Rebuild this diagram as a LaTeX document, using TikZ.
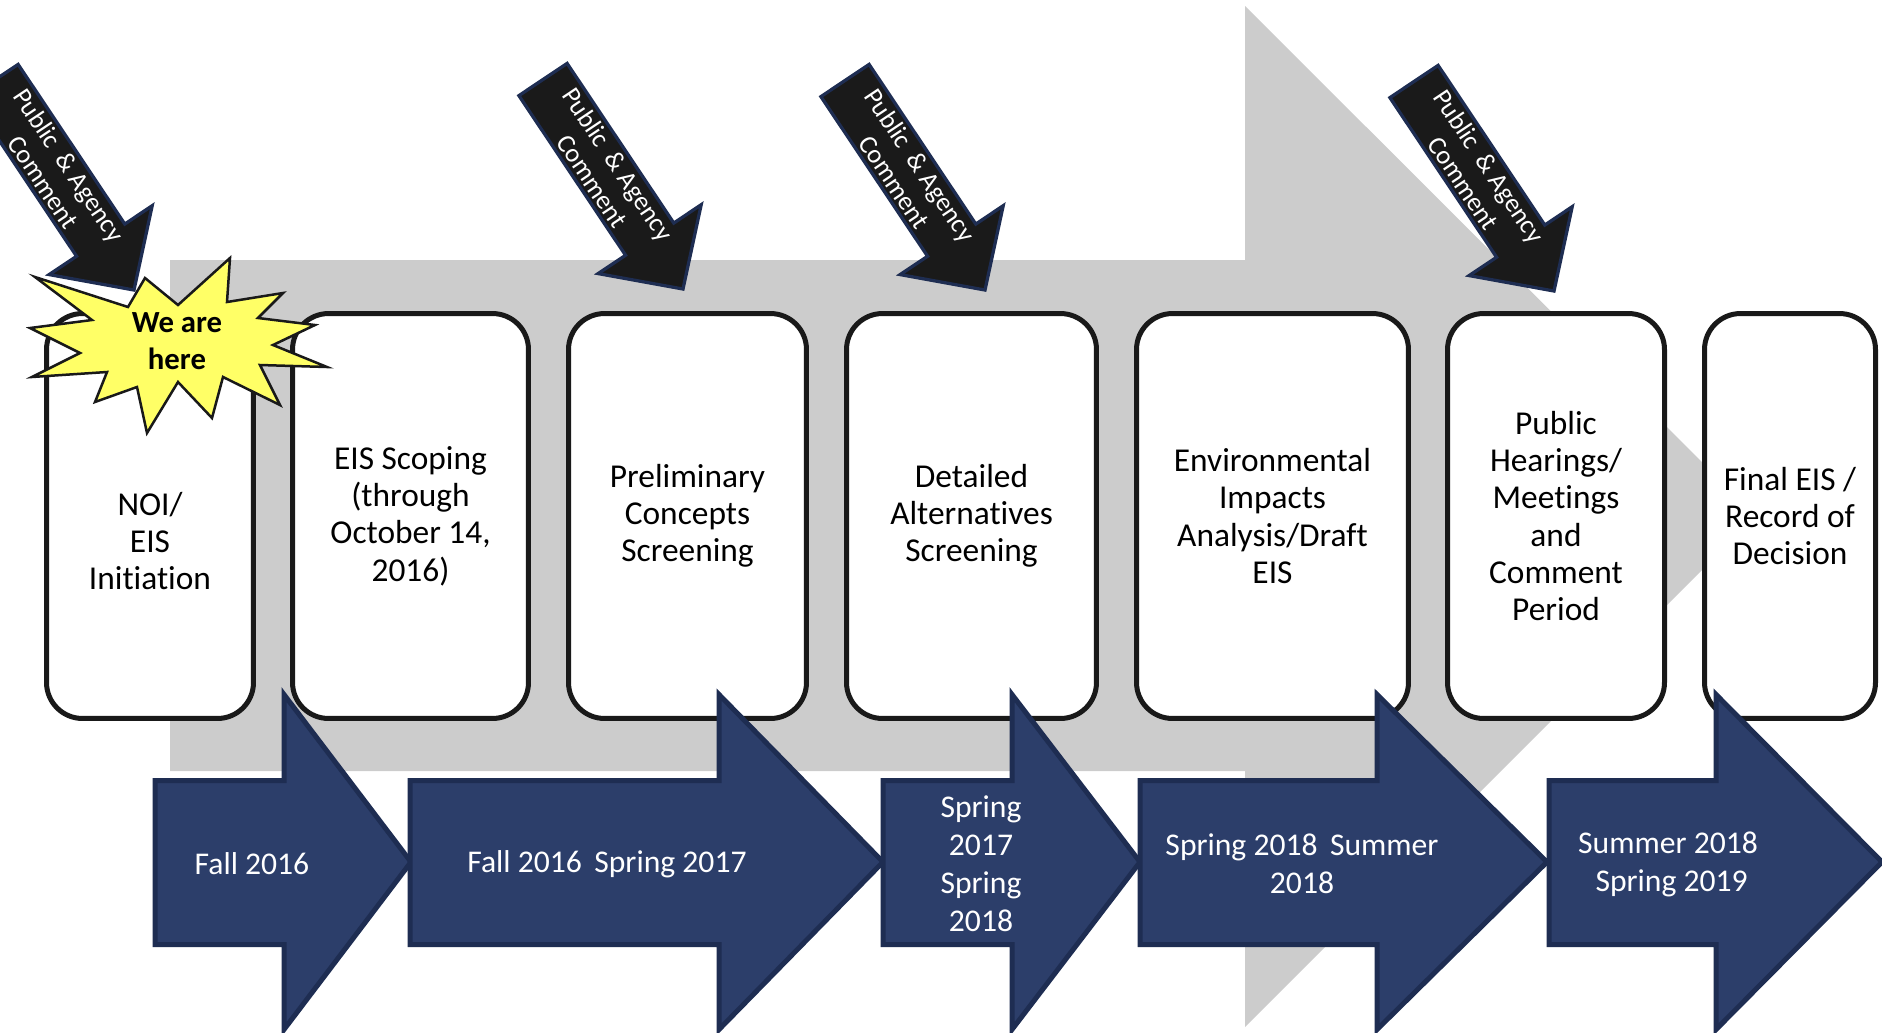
\documentclass[tikz,border=0pt]{standalone}
\usepackage{fontspec}
\setmainfont{Carlito}[Ligatures=NoCommon]
\usepackage{tikz}
\definecolor{navyFill}{RGB}{44, 62, 106}
\definecolor{navyEdge}{RGB}{30, 45, 82}
\definecolor{trackGray}{RGB}{204, 204, 204}
\definecolor{commentBlack}{RGB}{26, 26, 26}
\definecolor{starYellow}{RGB}{255, 255, 102}

\begin{document}
\begin{tikzpicture}[x=0.02cm, y=-0.02cm,
    stage/.style={draw=black!90, line width=0.1cm, fill=white, rounded corners=0.72cm,
        align=center, minimum height=8.1cm, inner sep=0pt, font=\fontsize{19}{21.2}\selectfont},
    period/.style={fill=navyFill, draw=navyEdge, line width=0.1cm},
    periodText/.style={text=white, align=center, font=\fontsize{18}{21.6}\selectfont},
    comment/.style={fill=commentBlack, draw=navyEdge, line width=0.065cm},
    commentText/.style={text=white, align=center, font=\fontsize{15}{17.5}\selectfont}]
    % page frame (pixel units)
    \useasboundingbox (0,0) rectangle (1882,1032);
    \clip (0,0) rectangle (1882,1032);

    % large gray arrow behind everything
    \coordinate (trackTop) at (1245,6);
    \coordinate (trackTip) at (1756,516);
    \coordinate (trackBottom) at (1245,1027);
    \fill[trackGray] (170,260) -- (1245,260) -- (trackTop) -- (trackTip)
        -- (trackBottom) -- (1245,771) -- (170,771) -- cycle;

    % process stages
    \node[stage, minimum width=4.14cm] (noi) at (150,516) {\mbox{}\\[0.72cm]NOI/\\EIS\\Initiation};
    \node[stage, minimum width=4.72cm] (scoping) at (410.5,516) {EIS Scoping\\(through\\October 14,\\2016)};
    \node[stage, minimum width=4.76cm] (concepts) at (687.5,516) {Preliminary\\Concepts\\Screening};
    \node[stage, minimum width=5.0cm] (alternatives) at (971.5,516) {Detailed\\Alternatives\\Screening};
    \node[stage, minimum width=5.44cm] (impacts) at (1272.5,516) {Environmental\\Impacts\\Analysis/Draft\\EIS};
    \node[stage, minimum width=4.34cm] (hearings) at (1556,516) {Public\\Hearings/\\Meetings\\and\\Comment\\Period};
    \node[stage, minimum width=3.42cm] (decision) at (1790,516) {Final EIS /\\Record of\\Decision};

    % public & agency comment arrows (tip x/y)
    \foreach \tx/\ty in {134/290, 683/289, 985/290, 1554/291} {
        \begin{scope}[shift={(\tx-140,\ty-209.5)}, rotate=-56.25]
            \draw[comment] (0,-29) -- (192,-29) -- (192,-62) -- (252,0)
                -- (192,62) -- (192,29) -- (0,29) -- cycle;
            \node[commentText, transform shape] (comment\tx) at (112,0) {Public \ \& Agency\\Comment};
        \end{scope}
    }

    % schedule arrows (body left / head start / tip)
    \foreach \l/\h/\t in {155/284/411, 410/719/883, 883/1012/1140, 1140/1377/1547, 1549/1716/1882} {
        \draw[period] (\l,780.5) -- (\h,780.5) -- (\h,694.5) -- (\t,862)
            -- (\h,1029.5) -- (\h,944.5) -- (\l,944.5) -- cycle;
    }
    \node[periodText] (fall) at (252,864) {Fall 2016};
    \node[periodText] (fallSpring) at (607,864) {Fall 2016\, Spring 2017};
    \node[periodText] (springSpring) at (981,864) {Spring\\2017\\Spring\\2018};
    \node[periodText] (springSummer) at (1302,864) {Spring 2018\, Summer\\2018};
    \node[periodText] (summerSpring) at (1668,864) {Summer 2018\\\ Spring 2019};

    % "we are here" burst
    \filldraw[fill=starYellow, draw=black!90, line width=0.05cm]
        (230,258) -- (227,302) -- (283,293) -- (258,318) -- (315,325) -- (273,345)
        -- (327,367) -- (260,365) -- (280,405) -- (223,377) -- (212,418) -- (178,382)
        -- (147,433) -- (137,387) -- (95,402) -- (107,372) -- (32,377) -- (80,353)
        -- (30,328) -- (92,320) -- (35,277) -- (128,307) -- (145,278) -- (178,305) -- cycle;
    \node[font=\bfseries\fontsize{17.5}{21}\selectfont, align=center] (weHere) at (177,341) {We are\\here};
\end{tikzpicture}
\end{document}
